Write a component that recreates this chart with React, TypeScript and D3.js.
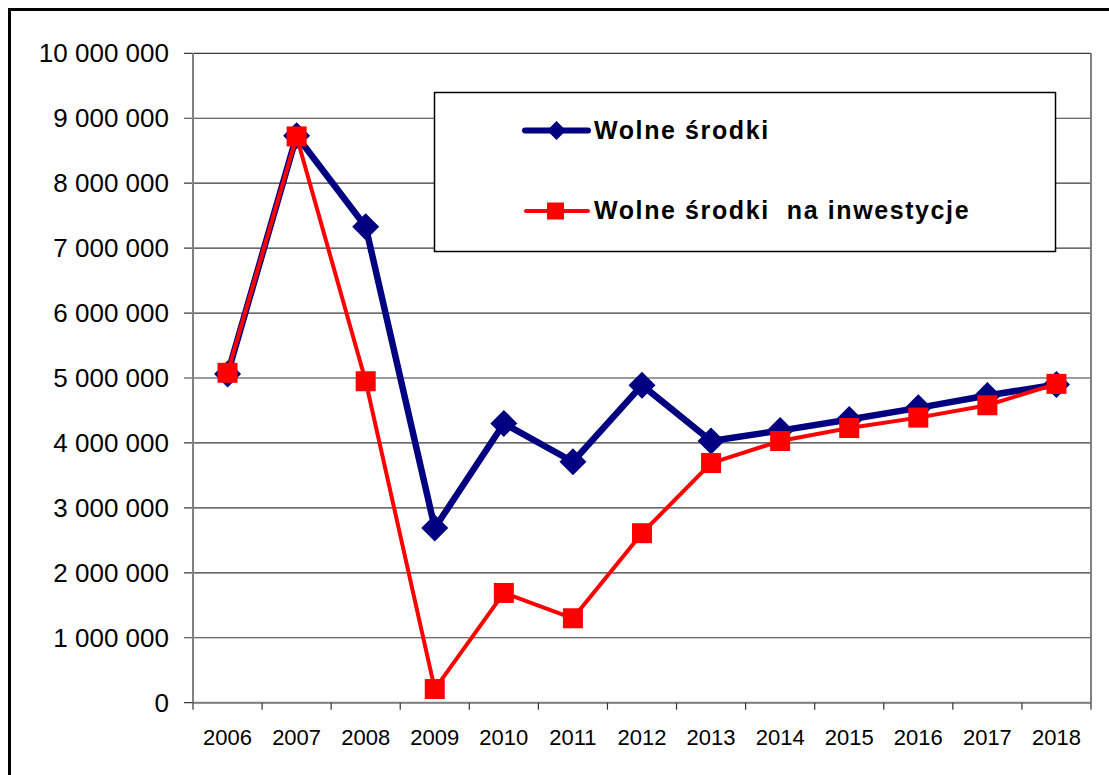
import React from 'react';
import * as d3 from 'd3';

const years = ['2006', '2007', '2008', '2009', '2010', '2011', '2012', '2013', '2014', '2015', '2016', '2017', '2018'];
const wolneSrodki = [5060000, 8730000, 7330000, 2690000, 4300000, 3710000, 4890000, 4030000, 4190000, 4360000, 4540000, 4730000, 4900000];
const naInwestycje = [5080000, 8720000, 4950000, 210000, 1690000, 1300000, 2610000, 3690000, 4030000, 4230000, 4390000, 4580000, 4910000];
const yTicks = [0, 1000000, 2000000, 3000000, 4000000, 5000000, 6000000, 7000000, 8000000, 9000000, 10000000];

const NAVY = '#000080';
const RED = '#ff0000';
const FONT = '"Liberation Sans", Arial, sans-serif';

const xScale = d3.scaleBand<string>().domain(years).range([193, 1091]).padding(0);
const yScale = d3.scaleLinear().domain([0, 10000000]).range([702.7, 53.3]);

const fmt = (v: number) => d3.format(',')(v).replace(/,/g, ' ');
const cx = (y: string) => (xScale(y) as number) + xScale.bandwidth() / 2;

const line = d3.line<number>()
  .x((_, i) => cx(years[i]))
  .y((d) => yScale(d));

const diamond = (x: number, y: number, r: number) =>
  `M${x},${y - r}L${x + r},${y}L${x},${y + r}L${x - r},${y}Z`;

export default function App() {
  const [x0, x1] = xScale.range();
  const yBottom = yScale(0);
  return (
    <div style={{ position: 'absolute', left: 0, top: 0 }}>
      <svg width={1109} height={775} style={{ display: 'block', background: '#fff' }}>
        {/* outer frame */}
        <rect x={9.5} y={9.5} width={1120} height={800} fill="none" stroke="#000" strokeWidth={3} />

        {/* grid */}
        {yTicks.map((t) => (
          <g key={t}>
            <line x1={184} x2={x1} y1={yScale(t)} y2={yScale(t)} stroke="#3a3a3a" strokeWidth={1.2} />
            <text x={169} y={yScale(t)} dy="0.35em" textAnchor="end" fontFamily={FONT} fontSize={26} fill="#000">
              {fmt(t)}
            </text>
          </g>
        ))}

        {/* axes */}
        <line x1={x0} x2={x0} y1={yScale(10000000)} y2={yBottom} stroke="#808080" strokeWidth={2} />
        <line x1={x1} x2={x1} y1={yScale(10000000)} y2={yBottom} stroke="#808080" strokeWidth={2} />
        <line x1={x0} x2={x1} y1={yBottom} y2={yBottom} stroke="#808080" strokeWidth={2} />
        {years.map((y) => (
          <line key={'t' + y} x1={xScale(y)} x2={xScale(y)} y1={yBottom} y2={yBottom + 7} stroke="#333" strokeWidth={1.2} />
        ))}
        <line x1={x1} x2={x1} y1={yBottom} y2={yBottom + 7} stroke="#333" strokeWidth={1.2} />
        {years.map((y) => (
          <text key={'l' + y} x={cx(y)} y={744.5} textAnchor="middle" fontFamily={FONT} fontSize={22} fill="#000">
            {y}
          </text>
        ))}

        {/* series 1 */}
        <path d={line(wolneSrodki) ?? ''} fill="none" stroke={NAVY} strokeWidth={6.5} strokeLinejoin="round" />
        {wolneSrodki.map((v, i) => (
          <path key={'d' + i} d={diamond(cx(years[i]), yScale(v), 13.5)} fill={NAVY} />
        ))}

        {/* series 2 */}
        <path d={line(naInwestycje) ?? ''} fill="none" stroke={RED} strokeWidth={4} strokeLinejoin="round" />
        {naInwestycje.map((v, i) => (
          <rect key={'s' + i} x={cx(years[i]) - 10} y={yScale(v) - 10} width={20} height={20} fill={RED} />
        ))}

        {/* legend */}
        <rect x={434.5} y={92.5} width={621} height={159} fill="#fff" stroke="#000" strokeWidth={1.5} />
        <line x1={525} x2={588} y1={130.5} y2={130.5} stroke={NAVY} strokeWidth={6} strokeLinecap="round" />
        <path d={diamond(556.5, 130.5, 9.5)} fill={NAVY} />
        <text x={594} y={138.5} fontFamily={FONT} fontWeight="bold" fontSize={25} letterSpacing={1.6} fill="#000">
          Wolne środki
        </text>
        <line x1={526} x2={588} y1={211} y2={211} stroke={RED} strokeWidth={4} strokeLinecap="round" />
        <rect x={547} y={202.5} width={17} height={17} fill={RED} />
        <text x={594} y={219} fontFamily={FONT} fontWeight="bold" fontSize={25} letterSpacing={1.6} fill="#000" style={{ whiteSpace: 'pre' }}>
          {'Wolne środki  na inwestycje'}
        </text>
      </svg>
    </div>
  );
}
